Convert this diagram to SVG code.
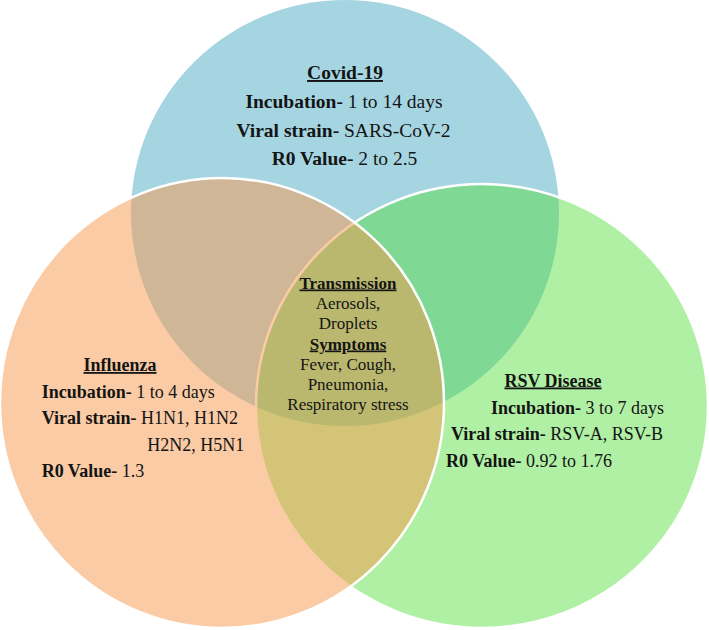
<svg xmlns="http://www.w3.org/2000/svg" width="709" height="630" viewBox="0 0 709 630">
<style>
.t{font-family:"Liberation Serif","Times New Roman",serif;fill:#141414}
.b{font-weight:bold}
.u{text-decoration:underline}
.big{font-size:19.5px}
.mid{font-size:18px}
.sm{font-size:17px}
.c{text-anchor:middle}
</style>
<rect width="709" height="630" fill="#ffffff"/>
<g id="covid">
<ellipse cx="345" cy="213" rx="214" ry="213" fill="#A6D5E2"/>
</g>
<g id="rsv">
<ellipse cx="482" cy="406" rx="226" ry="222" fill="#50DE35" fill-opacity="0.45" stroke="#ffffff" stroke-width="2.5"/>
</g>
<g id="influenza">
<ellipse cx="222" cy="403" rx="222" ry="225" fill="#F59749" fill-opacity="0.5" stroke="#ffffff" stroke-width="2.5"/>
</g>
<g id="connectors"/>
<g id="covid-text" class="t big">
<text class="c b u" x="345" y="79">Covid-19</text>
<text class="c" x="344" y="108"><tspan class="b">Incubation-</tspan> 1 to 14 days</text>
<text class="c" x="343.5" y="137"><tspan class="b">Viral strain-</tspan> SARS-CoV-2</text>
<text class="c" x="344.5" y="165"><tspan class="b">R0 Value-</tspan> 2 to 2.5</text>
</g>
<g id="influenza-text" class="t mid">
<text class="c b u" x="120" y="371">Influenza</text>
<text x="41.7" y="397.5"><tspan class="b">Incubation-</tspan> 1 to 4 days</text>
<text x="41.7" y="424"><tspan class="b">Viral strain-</tspan> H1N1, H1N2</text>
<text x="147.3" y="450.5">H2N2, H5N1</text>
<text x="41.7" y="477"><tspan class="b">R0 Value-</tspan> 1.3</text>
</g>
<g id="rsv-text" class="t mid">
<text class="c b u" x="553" y="386.5">RSV Disease</text>
<text x="491" y="413.5"><tspan class="b">Incubation-</tspan> 3 to 7 days</text>
<text x="451" y="440"><tspan class="b">Viral strain-</tspan> RSV-A, RSV-B</text>
<text x="446" y="466.5"><tspan class="b">R0 Value-</tspan> 0.92 to 1.76</text>
</g>
<g id="common" class="t sm c">
<text class="b u" x="348" y="288.5">Transmission</text>
<text x="348" y="309">Aerosols,</text>
<text x="348" y="329">Droplets</text>
<text class="b u" x="348" y="349.5">Symptoms</text>
<text x="348" y="370">Fever, Cough,</text>
<text x="348" y="390">Pneumonia,</text>
<text x="348" y="410">Respiratory stress</text>
</g>
</svg>
